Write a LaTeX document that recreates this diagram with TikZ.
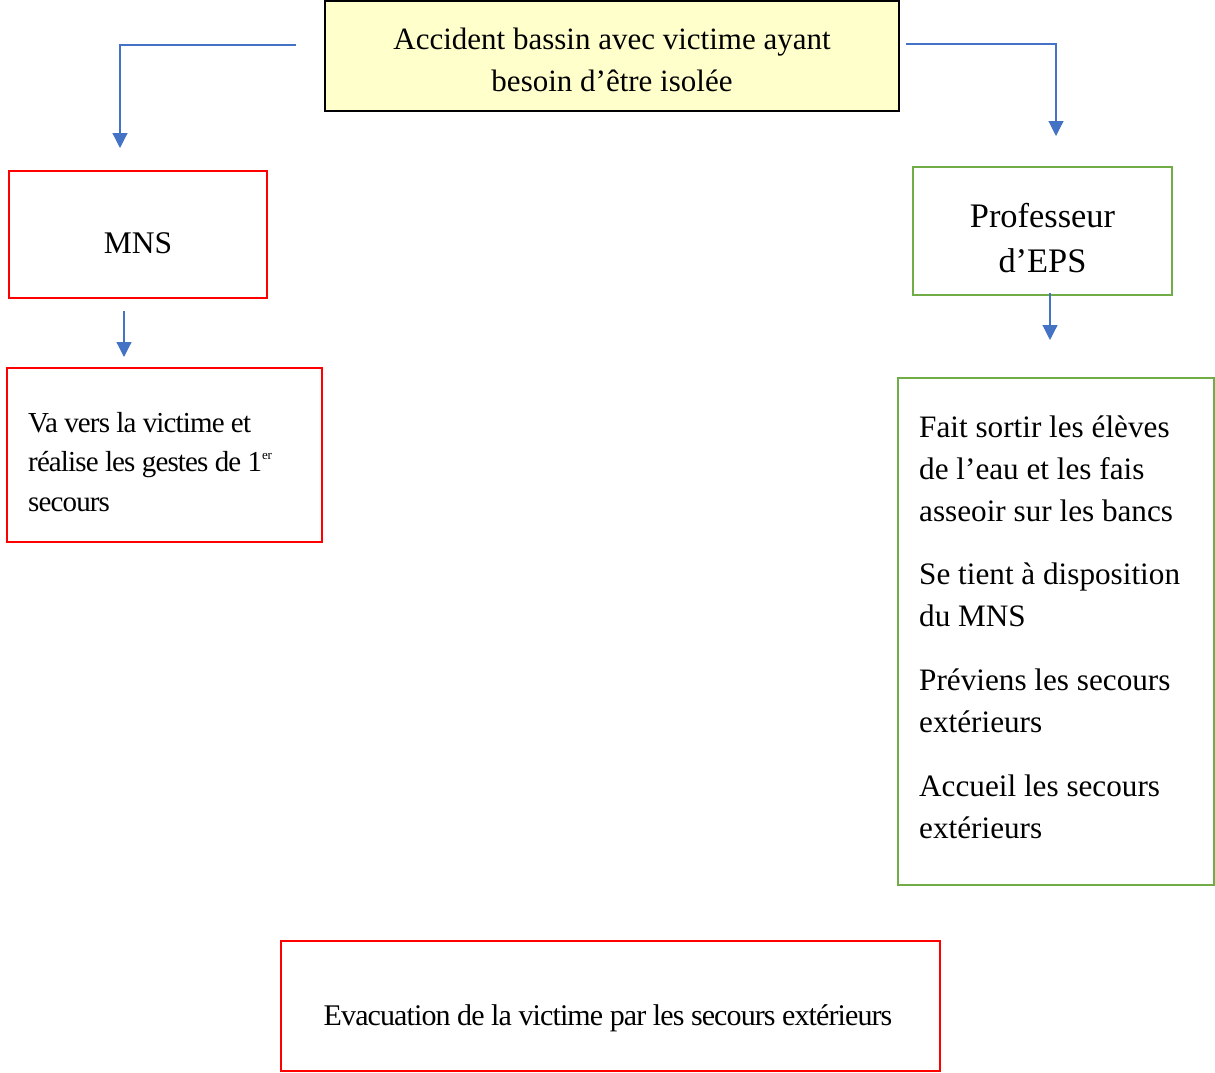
\documentclass[tikz,border=0pt]{standalone}
\usepackage{fontspec}
\setmainfont{Liberation Serif}
\usetikzlibrary{arrows.meta}
\definecolor{arrowblue}{HTML}{4472C4}
\definecolor{boxred}{HTML}{FF0000}
\definecolor{boxgreen}{HTML}{70AD47}
\definecolor{topfill}{HTML}{FFFFCC}
\tikzset{
  conn/.style={draw=arrowblue, line width=1.2pt, -{Triangle[width=15pt,length=15pt]}},
  redbox/.style={draw=boxred, line width=1.8pt, rectangle, inner sep=0pt},
  greenbox/.style={draw=boxgreen, line width=1.8pt, rectangle, inner sep=0pt},
  txt/.style={inner sep=0pt, font=\fontsize{31.2}{42}\selectfont},
}
\begin{document}
\begin{tikzpicture}[x=1pt,y=-1pt]
\useasboundingbox (0,0) rectangle (1215,1073);
% top box
\node[draw=black, fill=topfill, line width=2.2pt, minimum width=574pt, minimum height=110pt, inner sep=0pt] (top) at (612,56) {};
\node[inner sep=0pt, align=center, font=\fontsize{31}{42}\selectfont] (toptxt) at (612,60)
  {Accident bassin avec victime ayant\\besoin d’être isolée};
% MNS
\node[redbox, minimum width=258pt, minimum height=127pt] (mns) at (138,234.5) {};
\node[inner sep=0pt, font=\fontsize{31.5}{36}\selectfont] (mnstxt) at (138,243) {MNS};
% Va vers
\node[redbox, minimum width=315pt, minimum height=174pt] (va) at (164.5,455) {};
\node[inner sep=0pt, anchor=north west, align=left, font=\fontsize{29}{39.5}\selectfont\addfontfeatures{LetterSpace=-3}] (vatxt) at (28,412)
  {Va vers la victime et\\réalise les gestes de 1\raisebox{12pt}{\fontsize{13}{13}\selectfont er}\\secours};
% Professeur
\node[greenbox, minimum width=259pt, minimum height=128pt] (prof) at (1042.5,231) {};
\node[inner sep=0pt, align=center, font=\fontsize{34.4}{45}\selectfont] (proftxt) at (1042.5,238.5)
  {Professeur\\d’EPS};
% big green box
\node[greenbox, minimum width=316pt, minimum height=507pt] (actions) at (1056,631.5) {};
\node[txt, anchor=north west, align=left] (a1) at (919,416) {Fait sortir les élèves\\de l’eau et les fais\\asseoir sur les bancs};
\node[txt, anchor=north west, align=left] (a2) at (919,563) {Se tient à disposition\\du MNS};
\node[txt, anchor=north west, align=left] (a3) at (919,669) {Préviens les secours\\extérieurs};
\node[txt, anchor=north west, align=left] (a4) at (919,775) {Accueil les secours\\extérieurs};
% bottom
\node[redbox, minimum width=659pt, minimum height=130pt] (evac) at (610.5,1006) {};
\node[inner sep=0pt, font=\fontsize{30}{36}\selectfont\addfontfeatures{LetterSpace=-3}] (evactxt) at (608,1018) {Evacuation de la victime par les secours extérieurs};
% connectors
\coordinate (s1) at (296,45);
\coordinate (e1) at (120,148);
\coordinate (s2) at (906,44);
\coordinate (e2) at (1056,136);
\coordinate (s3) at (124,311);
\coordinate (e3) at (124,357);
\coordinate (s4) at (1050,293);
\coordinate (e4) at (1050,340);
\draw[conn] (s1) -| (e1);
\draw[conn] (s2) -| (e2);
\draw[conn] (s3) -- (e3);
\draw[conn] (s4) -- (e4);
\end{tikzpicture}
\end{document}
